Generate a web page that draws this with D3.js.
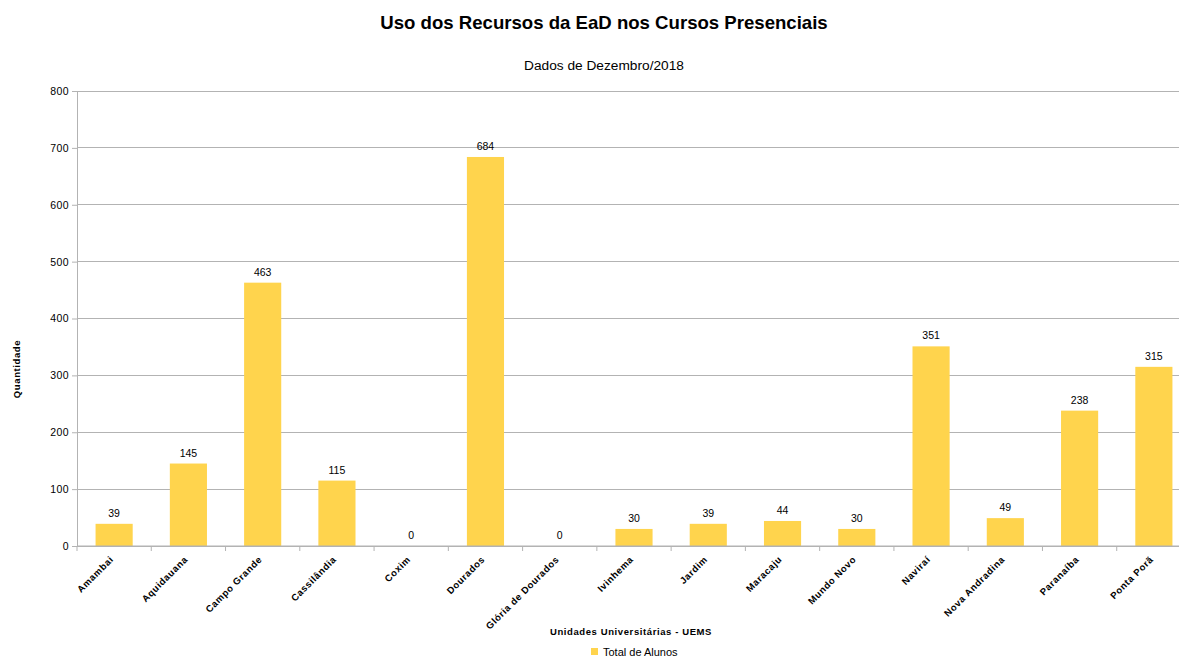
<!DOCTYPE html>
<html><head><meta charset="utf-8">
<script src="https://cdn.jsdelivr.net/npm/d3@7"></script>
<style>body{margin:0;background:#fff}svg{display:block;font-family:"Liberation Sans",Arial,sans-serif}</style>
</head><body>
<svg id="c" width="1179" height="659"></svg>
<script>
const categories = ["Amambai","Aquidauana","Campo Grande","Cassilândia","Coxim","Dourados","Glória de Dourados","Ivinhema","Jardim","Maracaju","Mundo Novo","Naviraí","Nova Andradina","Paranaíba","Ponta Porã"];
const values = [39,145,463,115,0,684,0,30,39,44,30,351,49,238,315];
const yTicks = [0,100,200,300,400,500,600,700,800];
const seriesName = "Total de Alunos";

const svg = d3.select("#c");
const pLeft = 77, pRight = 1191, pTop = 91, pBottom = 546;
const x = d3.scaleBand().domain(categories).range([pLeft, pRight]).paddingInner(0.5).paddingOuter(0.25);
const xb = d3.scaleBand().domain(categories).range([pLeft, pRight]);
const y = d3.scaleLinear().domain([0, 800]).range([pBottom, pTop]);
const color = "#FFD44D";

// grid
svg.append("g").selectAll("line").data(yTicks).join("line")
  .attr("x1", pLeft).attr("x2", pRight).attr("y1", d=>y(d)).attr("y2", d=>y(d))
  .attr("stroke", "#b3b3b3").attr("stroke-width", 1).attr("shape-rendering","crispEdges");

// bars
svg.append("g").selectAll("rect").data(values).join("rect")
  .attr("x", (d,i)=>x(categories[i])).attr("width", x.bandwidth())
  .attr("y", d=>y(d)).attr("height", d=>pBottom - y(d)).attr("fill", color);

// value labels
svg.append("g").selectAll("text").data(values).join("text")
  .attr("x", (d,i)=>x(categories[i]) + x.bandwidth()/2).attr("y", d=>y(d) - 7)
  .attr("text-anchor","middle").attr("font-size", 10.5).attr("fill","#000").text(d=>d);

// y axis
const yAxis = d3.axisLeft(y).tickValues(yTicks).tickSize(5).tickPadding(3);
const gy = svg.append("g").attr("transform", `translate(${pLeft},0)`).call(yAxis);
gy.select(".domain").attr("stroke","#b3b3b3");
gy.selectAll(".tick line").attr("stroke","#b3b3b3");
gy.selectAll(".tick text").attr("font-size",10.5).attr("fill","#000").attr("letter-spacing",0.4).attr("font-family","Liberation Sans, Arial, sans-serif");

// x axis
const gx = svg.append("g").attr("transform", `translate(0,${pBottom})`);
gx.append("line").attr("x1", pLeft).attr("x2", pRight).attr("y1",0).attr("y2",0).attr("stroke","#b3b3b3");
const bounds = categories.map(c=>xb(c)).concat([pRight]);
gx.selectAll("line.t").data(bounds).join("line").attr("class","t")
  .attr("x1", d=>d).attr("x2", d=>d).attr("y1",0).attr("y2",5).attr("stroke","#b3b3b3");
gx.selectAll("text").data(categories).join("text")
  .attr("transform", d=>`translate(${xb(d)+xb.bandwidth()/2},${14}) rotate(-45)`)
  .attr("text-anchor","end").attr("font-size",9.5).attr("font-weight","bold").attr("letter-spacing",0.6).attr("fill","#000")
  .text(d=>d);

// titles
svg.append("text").attr("x", 604).attr("y", 29).attr("text-anchor","middle")
  .attr("font-size",18.6).attr("font-weight","bold").text("Uso dos Recursos da EaD nos Cursos Presenciais");
svg.append("text").attr("x", 604).attr("y", 70).attr("text-anchor","middle")
  .attr("font-size",13.7).text("Dados de Dezembro/2018");
svg.append("text").attr("transform","translate(20,369) rotate(-90)").attr("text-anchor","middle")
  .attr("font-size",9.5).attr("font-weight","bold").attr("letter-spacing",0.6).text("Quantidade");
svg.append("text").attr("x", 631).attr("y", 635).attr("text-anchor","middle")
  .attr("font-size",9.5).attr("font-weight","bold").attr("letter-spacing",0.6).text("Unidades Universitárias - UEMS");

// legend
const lg = svg.append("g").attr("transform","translate(591,648)");
lg.append("rect").attr("x",0).attr("y",0).attr("width",7).attr("height",7).attr("fill",color);
lg.append("text").attr("x",12).attr("y",8).attr("font-size",11).text(seriesName);
</script>
</body></html>
